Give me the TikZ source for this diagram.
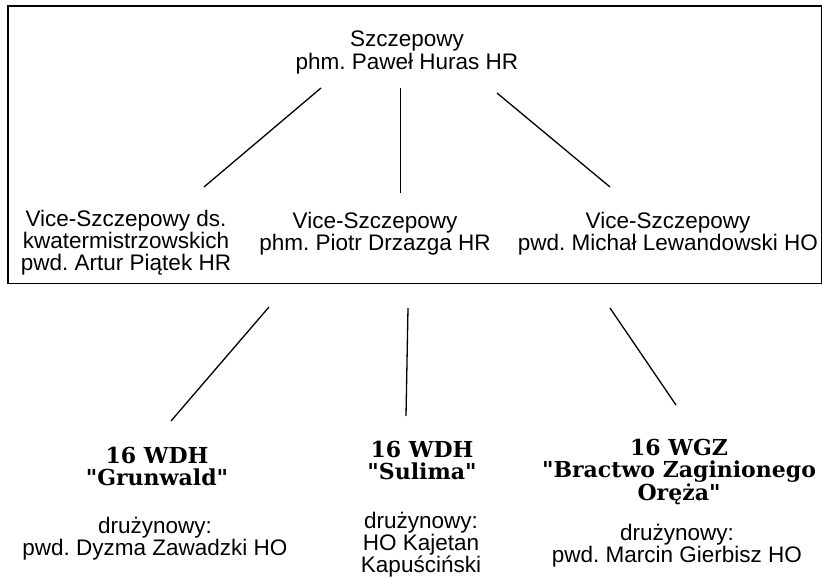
\documentclass[tikz,border=0pt]{standalone}
\usepackage{fontspec}
\setmainfont{Liberation Sans}
\newfontfamily\boldserif{DejaVu Serif}
\newcommand{\mklines}[1]{\begin{tabular}[t]{@{}c@{}}#1\end{tabular}}
\begin{document}
\frenchspacing
\begin{tikzpicture}[x=1pt,y=-1pt,
  txt/.style={anchor=base,inner sep=0pt,font=\fontsize{22.5}{20}\selectfont\frenchspacing},
  btxt/.style={anchor=base,inner sep=0pt,font=\fontsize{22}{20}\selectfont\boldserif\bfseries},
  conn/.style={line width=1.3pt},
  frame/.style={line width=1.8pt}]
\useasboundingbox (0,0) rectangle (823,578);
\draw[frame] (8.3,6) rectangle (821.5,283.5);
% top
\node[txt] (top) at (407,47) {\mklines{Szczepowy\\phm. Paweł Huras HR}};
% second row
\node[txt] (vl) at (126,226) {\mklines{Vice-Szczepowy ds.\\kwatermistrzowskich\\pwd. Artur Piątek HR}};
\node[txt] (vm) at (375,228) {\mklines{Vice-Szczepowy\\phm. Piotr Drzazga HR}};
\node[txt] (vr) at (668,228) {\mklines{Vice-Szczepowy\\pwd. Michał Lewandowski HO}};
% bottom row
\node[btxt] (bl) at (157,463) {\mklines{16 WDH\\"Grunwald"}};
\node[txt] (dl) at (155,533) {\mklines{drużynowy:\\pwd. Dyzma Zawadzki HO}};
\node[btxt] (bm) at (422,457) {\mklines{16 WDH\\"Sulima"}};
\node[txt] (dm) at (421,528) {\mklines{drużynowy:\\HO Kajetan\\Kapuściński}};
\node[btxt] (br) at (679,455) {\mklines{16 WGZ\\"Bractwo Zaginionego\\Oręża"}};
\node[txt] (dr) at (677,540) {\mklines{drużynowy:\\pwd. Marcin Gierbisz HO}};
% connector ends
\coordinate (l1a) at (321,88);   \coordinate (l1b) at (204,187);
\coordinate (m1a) at (400.5,88); \coordinate (m1b) at (400.5,193);
\coordinate (r1a) at (497,93);   \coordinate (r1b) at (610,187);
\coordinate (l2a) at (269,307);  \coordinate (l2b) at (171,421);
\coordinate (m2a) at (408,308);  \coordinate (m2b) at (406,416);
\coordinate (r2a) at (610,308);  \coordinate (r2b) at (676,405);
\draw[conn] (l1a) -- (l1b);
\draw[conn] (m1a) -- (m1b);
\draw[conn] (r1a) -- (r1b);
\draw[conn] (l2a) -- (l2b);
\draw[conn] (m2a) -- (m2b);
\draw[conn] (r2a) -- (r2b);
\end{tikzpicture}
\end{document}
